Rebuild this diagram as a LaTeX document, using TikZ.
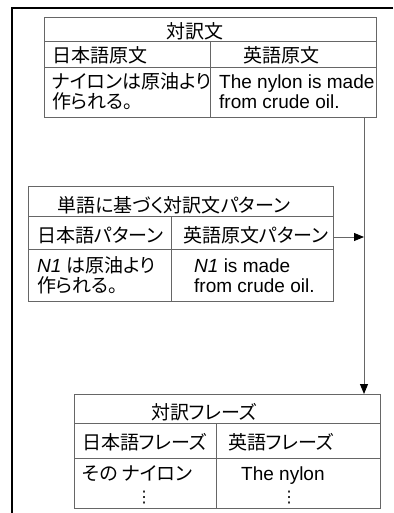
\documentclass[tikz,border=0pt]{standalone}
\usepackage{fontspec}
\setmainfont{Liberation Sans}
\newfontfamily\jp[RawFeature=+palt]{Noto Sans CJK JP}
\newfontfamily\symfont{DejaVu Sans}
\usetikzlibrary{arrows.meta, calc, positioning}

\tikzset{
  rule/.style={draw=black!60, line width=1pt},
  tbl/.style={rule, anchor=north west, inner sep=0pt},
  txt/.style={anchor=base west, inner sep=0pt, align=left},
  link/.style={draw=black!60, line width=1pt, -{Triangle[length=10pt,width=8pt,color=black]}},
  dots/.style={inner sep=0pt, font=\fontsize{16}{16}\symfont},
}

\begin{document}
\begin{tikzpicture}[x=1pt, y=-1pt, font=\fontsize{19}{20}\selectfont]
  \useasboundingbox (0,0) rectangle (393,513);
  % outer frame
  \draw[line width=1.2pt] (393,8) -- (12,8) -- (12,513);

  % sentence pair
  \node[tbl, minimum width=332pt, minimum height=100pt] (pair) at (44,17) {};
  \draw[rule] (44,42) -- (376,42) (44,68) -- (376,68) (210,42) -- (210,117);
  \node[txt] (pairtitle) at (166,39) {\jp 対訳文};
  \node[txt] (pairjahead) at (52,63) {\jp 日本語原文};
  \node[txt] (pairenhead) at (243,63) {\jp 英語原文};
  \node[txt] (pairja) at (52,109) {\jp ナイロンは原油より\\\jp 作られる。};
  \node[txt] (pairen) at (219,109) {The nylon is made\\from crude oil.};

  % word-based pattern
  \node[tbl, minimum width=305pt, minimum height=115pt] (pattern) at (28,186) {};
  \draw[rule] (28,216) -- (333,216) (28,249) -- (333,249) (171,216) -- (171,301);
  \node[txt] (pattitle) at (57,212) {\jp 単語に基づく対訳文パターン};
  \node[txt] (patjahead) at (37,242) {\jp 日本語パターン};
  \node[txt] (patenhead) at (183,242) {\jp 英語原文パターン};
  \node[txt] (patja) at (37,292) {\itshape N1 {\jp\upshape は原油より}\\\jp 作られる。};
  \node[txt] (paten) at (194,292) {\itshape N1\upshape{} is made\\from crude oil.};

  % phrase pair
  \node[tbl, minimum width=306pt, minimum height=114pt] (phrase) at (74,394) {};
  \draw[rule] (74,423) -- (380,423) (74,458) -- (380,458) (216,423) -- (216,508);
  \node[txt] (phrtitle) at (151,419) {\jp 対訳フレーズ};
  \node[txt] (phrjahead) at (82,449) {\jp 日本語フレーズ};
  \node[txt] (phrenhead) at (228,449) {\jp 英語フレーズ};
  \node[txt] (phrja) at (82,480) {\jp その ナイロン};
  \node[txt] (phren) at (241,480) {The nylon};
  \node[dots] (phrjadots) at (144,498) {⋮};
  \node[dots] (phrendots) at (289,498) {⋮};

  % connectors
  \coordinate (split) at (364,237);
  \draw[link] (pair.south -| split) -- (phrase.north -| split);
  \draw[link] (pattern.east |- split) -- (split);
\end{tikzpicture}
\end{document}
